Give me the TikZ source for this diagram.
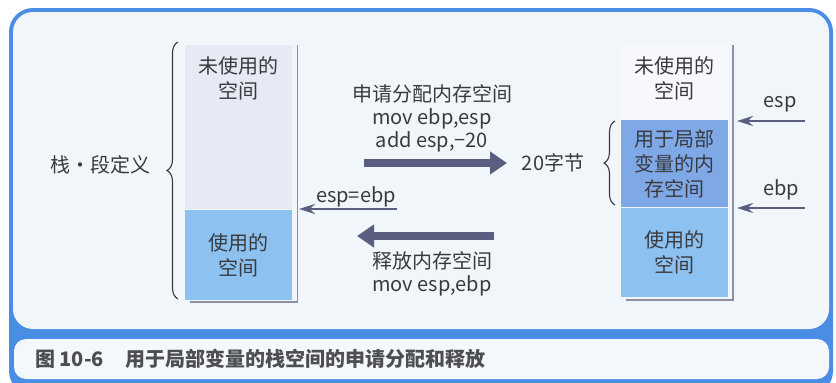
\documentclass[tikz,border=0pt]{standalone}
\usepackage{fontspec}
\newfontfamily\cjk{Noto Sans CJK SC}
\usepackage{xcolor}
\usetikzlibrary{arrows.meta,calc,positioning,decorations.pathreplacing}
\definecolor{Frame}{HTML}{4A8DE4}
\definecolor{Panel}{HTML}{F1F6FA}
\definecolor{CapBar}{HTML}{F4F8FC}
\definecolor{FreeL}{HTML}{E6EAF4}
\definecolor{FreeR}{HTML}{F6F8FB}
\definecolor{Used}{HTML}{8DC2F0}
\definecolor{Local}{HTML}{7EA8E6}
\definecolor{Arrow}{HTML}{5A5F82}
\definecolor{Rule}{HTML}{8C90A2}
\definecolor{Ink}{HTML}{3A3A3E}
\tikzset{
  lbl/.style={font=\cjk\fontsize{20}{25}\selectfont,text=Ink,align=center,inner sep=0pt},
  blk/.style={minimum width=107pt,inner sep=0pt,draw=none},
  fat/.style={Arrow,line width=8pt,-{Triangle[width=22pt,length=17pt]}},
  thin/.style={Arrow,line width=2.2pt,-{Stealth[width=10pt,length=16pt]}},
  stackline/.style={Rule,line width=1.2pt},
  curly/.style={Ink,line width=1.1pt,decorate,decoration={brace,amplitude=11pt}}
}
\begin{document}
\begin{tikzpicture}[x=1pt,y=-1pt]
\useasboundingbox (0,0) rectangle (836,383);
\fill[white] (0,0) rectangle (836,383);
% frame and caption bar
\fill[Frame,rounded corners=24pt] (9,8) rectangle (833,395);
\fill[Panel,rounded corners=20pt] (13,12) rectangle (829,329);
\fill[CapBar,rounded corners=12pt] (14,339) rectangle (829,379);
\node[lbl,font=\cjk\bfseries\fontsize{20}{24}\selectfont,text=Ink!90,anchor=west] (cap) at (35,359) {图 10-6\hspace{22pt}用于局部变量的栈空间的申请分配和释放};

% left stack
\node[blk,fill=FreeL,minimum height=164pt,anchor=north west] (lfree) at (185,45) {};
\node[lbl,below=11pt of lfree.north] (lfreet) {未使用的\\空间};
\node[blk,fill=Used,minimum height=90pt,anchor=north west] (lused) at (185,210) {};
\node[lbl] at (lused) {使用的\\空间};
\draw[stackline] (lfree.north east) ++(5,0) coordinate (ltop) -- (ltop|-0,302) -- (190,302);
\draw[curly] (178,299) -- (178,42);
\node[lbl] (stack) at (100,165) {栈・段定义};

% right stack
\node[blk,fill=FreeR,minimum height=75pt,anchor=north west] (rfree) at (621,45) {};
\node[lbl,below=11pt of rfree.north] (rfreet) {未使用的\\空间};
\node[blk,fill=Local,minimum height=87pt,anchor=north west] (rlocal) at (621,120) {};
\node[lbl] at (rlocal) {用于局部\\变量的内\\存空间};
\node[blk,fill=Used,minimum height=89pt,anchor=north west] (rused) at (621,208) {};
\node[lbl] at (rused) {使用的\\空间};
\draw[stackline] (733,45) -- (733,300) -- (626,300);
\draw[curly] (615,205) -- (615,121);
\node[lbl] (bytes) at (553,163) {20字节};

% esp / ebp pointers
\coordinate (espfrom) at (805,121);
\coordinate (espto) at (737,121);
\coordinate (ebpfrom) at (805,208);
\coordinate (ebpto) at (737,208);
\draw[thin] (espfrom) -- (espto);
\draw[thin] (ebpfrom) -- (ebpto);
\node[lbl] (esp) at (780,104) {esp};
\node[lbl] (ebp) at (781,190) {ebp};

% allocate / release
\node[lbl,font=\cjk\fontsize{20}{23}\selectfont] (alloc) at (432,118) {申请分配内存空间\\mov ebp,esp\\add esp,−20};
\coordinate (allocfrom) at (364,163);
\coordinate (allocto) at (507,163);
\draw[fat] (allocfrom) -- (allocto);
\coordinate (relfrom) at (494,236);
\coordinate (relto) at (357,236);
\draw[fat] (relfrom) -- (relto);
\node[lbl,font=\cjk\fontsize{20}{23}\selectfont] (release) at (432,274) {释放内存空间\\mov esp,ebp};
\node[lbl] (same) at (356,197) {esp=ebp};
\coordinate (samefrom) at (397,209);
\coordinate (sameto) at (299,209);
\draw[thin] (samefrom) -- (sameto);
\end{tikzpicture}
\end{document}
